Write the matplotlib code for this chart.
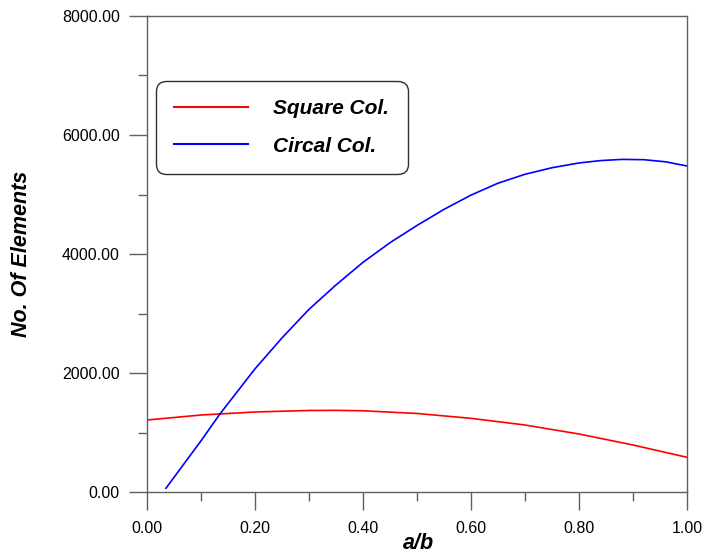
import matplotlib
matplotlib.use("Agg")
import matplotlib.pyplot as plt
from matplotlib.ticker import MultipleLocator, FormatStrFormatter

plt.rcParams['font.family'] = ['Liberation Sans', 'DejaVu Sans']

# Data
x_square = [0.0, 0.1, 0.2, 0.3, 0.35, 0.4, 0.5, 0.6, 0.7, 0.8, 0.9, 1.0]
y_square = [1210, 1294, 1345, 1370, 1372, 1365, 1320, 1238, 1126, 975, 790, 583]

x_circle = [0.035, 0.1, 0.135, 0.2, 0.25, 0.3, 0.35, 0.4, 0.45, 0.5, 0.55,
            0.6, 0.65, 0.7, 0.75, 0.8, 0.84, 0.88, 0.92, 0.96, 1.0]
y_circle = [62, 860, 1311, 2070, 2590, 3070, 3480, 3860, 4190, 4480, 4750,
            4990, 5190, 5340, 5450, 5530, 5570, 5590, 5585, 5550, 5479]

labels = ["Square Col.", "Circal Col."]
xlabel = "a/b"
ylabel = "No. Of Elements"

fig = plt.figure(figsize=(7.04, 5.54), dpi=100)
ax = fig.add_axes([147/704, 1-492/554, 540/704, 476/554])

ax.plot(x_square, y_square, color='#ff0000', lw=1.2, label=labels[0])
ax.plot(x_circle, y_circle, color='#0000ff', lw=1.2, label=labels[1])

ax.set_xlim(0, 1)
ax.set_ylim(0, 8000)
ax.xaxis.set_major_locator(MultipleLocator(0.2))
ax.xaxis.set_minor_locator(MultipleLocator(0.1))
ax.yaxis.set_major_locator(MultipleLocator(2000))
ax.yaxis.set_minor_locator(MultipleLocator(1000))
ax.xaxis.set_major_formatter(FormatStrFormatter('%.2f'))
ax.yaxis.set_major_formatter(FormatStrFormatter('%.2f'))

spine_col = '#606060'
for s in ax.spines.values():
    s.set_color(spine_col)
    s.set_linewidth(1.0)

ax.tick_params(axis='both', which='major', direction='out', length=13, width=1.0,
               color=spine_col, labelsize=11.5, labelcolor='black')
ax.tick_params(axis='both', which='minor', direction='out', length=6.5, width=1.0,
               color=spine_col)
ax.tick_params(axis='x', which='major', pad=8)
ax.tick_params(axis='y', which='major', pad=6.5)

fig.text(418/704, 1-549/554, xlabel, fontsize=15.5, fontweight='bold',
         fontstyle='italic', ha='center', va='baseline')
fig.text(22/704, 1-254/554, ylabel, fontsize=15.5, fontweight='bold',
         fontstyle='italic', ha='center', va='center', rotation=90)

leg = ax.legend(loc='upper left', bbox_to_anchor=(0.0167, 0.8634),
                prop={'size': 15, 'weight': 'bold', 'style': 'italic'},
                handlelength=3.55, handletextpad=1.2, labelspacing=0.88,
                borderpad=0.88, borderaxespad=0.0, fancybox=True,
                frameon=True, framealpha=1.0)
frame = leg.get_frame()
frame.set_edgecolor('#303030')
frame.set_linewidth(1.0)
frame.set_boxstyle('round,pad=0,rounding_size=0.5')
for line in leg.get_lines():
    line.set_linewidth(1.5)

fig.savefig('out.png', dpi=100)
